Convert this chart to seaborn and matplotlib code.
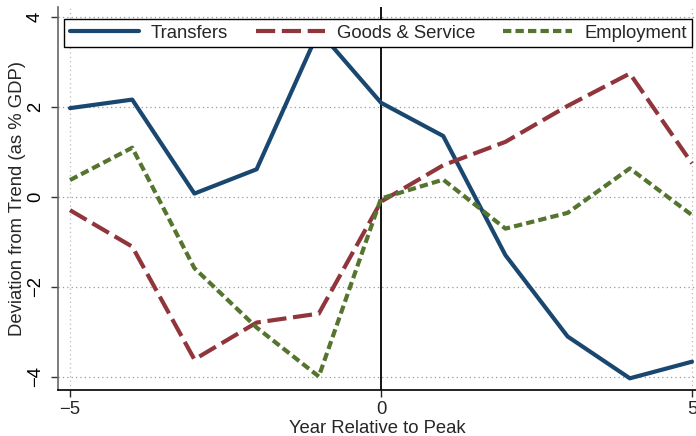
import matplotlib
matplotlib.use("Agg")
import matplotlib.pyplot as plt
import seaborn as sns
import pandas as pd

years = [-5, -4, -3, -2, -1, 0, 1, 2, 3, 4, 5]
transfers = [1.98, 2.17, 0.08, 0.62, 3.7, 2.1, 1.36, -1.29, -3.1, -4.03, -3.66]
goods = [-0.29, -1.1, -3.61, -2.79, -2.59, -0.1, 0.71, 1.23, 2.03, 2.75, 0.75]
employment = [0.38, 1.1, -1.58, -2.9, -3.99, -0.03, 0.39, -0.7, -0.35, 0.64, -0.4]
series_names = ["Transfers", "Goods & Service", "Employment"]
x_ticks = [-5, 0, 5]
y_ticks = [-4, -2, 0, 2, 4]

sns.set_style("white")
plt.rcParams['font.family'] = ['Liberation Sans', 'DejaVu Sans']

fig = plt.figure(figsize=(6.96, 4.36), dpi=100)
ax_bottom_px, ax_top_px = 390, 7
ax = fig.add_axes([58/696, (436 - ax_bottom_px)/436, 638/696, (ax_bottom_px - ax_top_px)/436])

colors = ["#1a476f", "#90353b", "#55752f"]
styles = ["-", (0, (4.6, 1.6)), (0, (2.0, 1.0))]
for vals, name, c, ls in zip([transfers, goods, employment], series_names, colors, styles):
    df = pd.DataFrame({"year": years, "value": vals})
    sns.lineplot(data=df, x="year", y="value", ax=ax, color=c, lw=3,
                 linestyle=ls, label=name, zorder=3)

ax.set_xlim(-5.193, 5.064)
ax.set_ylim(-4.29, 4.23)
ax.set_xticks(x_ticks)
ax.set_yticks(y_ticks)

for y in y_ticks:
    ax.axhline(y, color="#999999", lw=0.9, linestyle=(0, (1, 2.5)), zorder=1)
for x in [-5, 5]:
    ax.axvline(x, color="#bbbbbb", lw=0.9, linestyle=(0, (1, 2.5)), zorder=1)
ax.axvline(0, color="black", lw=1.3, zorder=2)

for s in ["top", "right"]:
    ax.spines[s].set_visible(False)
ax.spines["left"].set_color("#666666")
ax.spines["left"].set_linewidth(1.2)
ax.spines["bottom"].set_color("black")
ax.spines["bottom"].set_linewidth(1.2)

ax.tick_params(axis="both", direction="out", length=5, width=1, labelsize=13.3,
               bottom=True, left=True, pad=3)
ax.tick_params(axis="y", colors="#333333", labelcolor="black", pad=5)
for lab in ax.get_yticklabels():
    lab.set_rotation(90)
    lab.set_va("center")

ax.set_xlabel("Year Relative to Peak", fontsize=13.3, labelpad=1)
ax.set_ylabel("Deviation from Trend (as % GDP)", fontsize=13.3, labelpad=1)

leg_bottom = (ax_bottom_px - 47.3) / (ax_bottom_px - ax_top_px)
leg_top = (ax_bottom_px - 12.7) / (ax_bottom_px - ax_top_px)
leg = ax.legend(loc="lower left", bbox_to_anchor=(0.0094, leg_bottom, 0.9846, leg_top - leg_bottom),
                mode="expand", ncol=3, fontsize=13.3, frameon=True, fancybox=False,
                handlelength=3.75, handletextpad=0.65, borderpad=0.3,
                borderaxespad=0)
leg.get_frame().set_edgecolor("black")
leg.get_frame().set_linewidth(1.0)
leg.get_frame().set_alpha(1)
leg.set_zorder(5)

fig.savefig("out.png", dpi=100)
